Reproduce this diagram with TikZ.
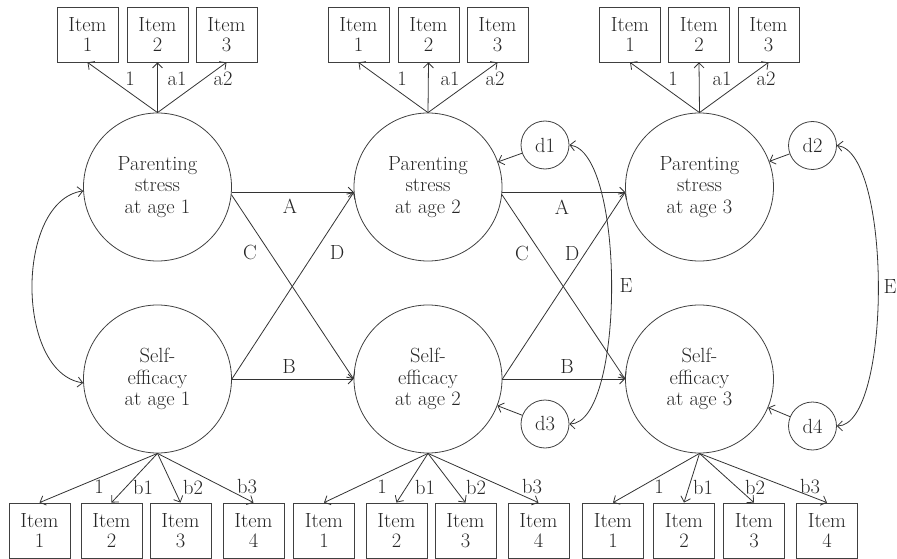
\documentclass[tikz,border=0pt]{standalone}
\usetikzlibrary{arrows.meta}
\begin{document}
\begin{tikzpicture}[x=1pt,y=-1pt,
  every node/.style={font=\fontsize{20.5}{21.5}\selectfont, text=black!85},
  lat/.style={circle,draw=black!75,line width=0.8pt,minimum size=148pt,inner sep=0pt,align=center},
  dist/.style={circle,draw=black!75,line width=0.8pt,minimum size=48pt,inner sep=0pt},
  itembox/.style={rectangle,draw=black!75,line width=0.8pt,minimum width=61pt,minimum height=55pt,inner sep=0pt,align=center,font=\fontsize{20.5}{20}\selectfont},
  arr/.style={draw=black!80,line width=0.8pt,-{Straight Barb[length=5pt,width=10pt]}},
  biarr/.style={draw=black!80,line width=0.8pt,{Straight Barb[length=5pt,width=10pt]}-{Straight Barb[length=5pt,width=10pt]}},
  lbl/.style={inner sep=0pt}
]
\useasboundingbox (0,0) rectangle (897,559);

% latent variables
\node[lat] (ps1) at (157.5,187) {Parenting\\stress\\at age 1};
\node[lat] (ps2) at (428,187) {Parenting\\stress\\at age 2};
\node[lat] (ps3) at (699.5,187) {Parenting\\stress\\at age 3};
\node[lat] (se1) at (157.5,379) {Self-\\efficacy\\at age 1};
\node[lat] (se2) at (428,379) {Self-\\efficacy\\at age 2};
\node[lat] (se3) at (699.5,379) {Self-\\efficacy\\at age 3};

% disturbances
\node[dist] (d1) at (545,145) {d1};
\node[dist] (d2) at (812.5,145.5) {d2};
\node[dist] (d3) at (545,424) {d3};
\node[dist] (d4) at (812.5,426) {d4};

% top items
\node[itembox] (t11) at (87.5,34.5) {Item\\1};
\node[itembox] (t12) at (157.5,34.5) {Item\\2};
\node[itembox] (t13) at (226.5,34.5) {Item\\3};
\node[itembox] (t21) at (358.5,34.5) {Item\\1};
\node[itembox] (t22) at (428.5,34.5) {Item\\2};
\node[itembox] (t23) at (497.5,34.5) {Item\\3};
\node[itembox] (t31) at (630,34.5) {Item\\1};
\node[itembox] (t32) at (699,34.5) {Item\\2};
\node[itembox] (t33) at (768.5,34.5) {Item\\3};

% bottom items
\node[itembox] (b11) at (39.5,530.5) {Item\\1};
\node[itembox] (b12) at (111.5,530.5) {Item\\2};
\node[itembox] (b13) at (180.5,530.5) {Item\\3};
\node[itembox] (b14) at (253.5,530.5) {Item\\4};
\node[itembox] (b21) at (324,530.5) {Item\\1};
\node[itembox] (b22) at (396.5,530.5) {Item\\2};
\node[itembox] (b23) at (465.5,530.5) {Item\\3};
\node[itembox] (b24) at (538.5,530.5) {Item\\4};
\node[itembox] (b31) at (613,530.5) {Item\\1};
\node[itembox] (b32) at (684,530.5) {Item\\2};
\node[itembox] (b33) at (754,530.5) {Item\\3};
\node[itembox] (b34) at (827,530.5) {Item\\4};

% loadings top
\foreach \c in {1,2,3}{
  \draw[arr] (ps\c.north) -- (t\c1.south);
  \draw[arr] (ps\c.north) -- (t\c2.south);
  \draw[arr] (ps\c.north) -- (t\c3.south);
}
% loadings bottom
\foreach \c in {1,2,3}{
  \draw[arr] (se\c.south) -- (b\c1.north);
  \draw[arr] (se\c.south) -- (b\c2.north);
  \draw[arr] (se\c.south) -- (b\c3.north);
  \draw[arr] (se\c.south) -- (b\c4.north);
}

% loading labels top
\node[lbl] (lt11) at (130,79) {1};
\node[lbl] (lt12) at (177,79) {a1};
\node[lbl] (lt13) at (223,79) {a2};
\node[lbl] (lt21) at (402,79) {1};
\node[lbl] (lt22) at (450,79) {a1};
\node[lbl] (lt23) at (495,79) {a2};
\node[lbl] (lt31) at (673,79) {1};
\node[lbl] (lt32) at (722,79) {a1};
\node[lbl] (lt33) at (766,79) {a2};

% loading labels bottom
\node[lbl] (lb11) at (99,487) {1};
\node[lbl] (lb12) at (143,487) {b1};
\node[lbl] (lb13) at (193,487) {b2};
\node[lbl] (lb14) at (247,487) {b3};
\node[lbl] (lb21) at (382,487) {1};
\node[lbl] (lb22) at (425,487) {b1};
\node[lbl] (lb23) at (476,487) {b2};
\node[lbl] (lb24) at (532,487) {b3};
\node[lbl] (lb31) at (659,487) {1};
\node[lbl] (lb32) at (703,487) {b1};
\node[lbl] (lb33) at (755,487) {b2};
\node[lbl] (lb34) at (810,487) {b3};

% structural paths
\draw[arr] (ps1.-4) -- (ps2.184);
\draw[arr] (ps2.-4) -- (ps3.184);
\draw[arr] (se1.east) -- (se2.west);
\draw[arr] (se2.east) -- (se3.west);
\draw[arr] (ps1.-6) -- (se2.west);
\draw[arr] (ps2.-6) -- (se3.west);
\draw[arr] (se1.east) -- (ps2.184);
\draw[arr] (se2.east) -- (ps3.184);

\node[lbl] (la1) at (290,206) {A};
\node[lbl] (la2) at (562,207) {A};
\node[lbl] (lbb1) at (289,366) {B};
\node[lbl] (lbb2) at (567,366) {B};
\node[lbl] (lc1) at (250,252) {C};
\node[lbl] (lc2) at (522,253) {C};
\node[lbl] (ld1) at (337,252) {D};
\node[lbl] (ld2) at (572,253) {D};

% disturbances to latents
\draw[arr] (d1) -- (ps2);
\draw[arr] (d2) -- (ps3);
\draw[arr] (d3) -- (se2);
\draw[arr] (d4) -- (se3);

% covariances
\draw[biarr] (ps1.183) .. controls +(-68,10) and +(-68,-10) .. (se1.183);
\draw[biarr] (d1.east) .. controls +(56,7) and +(56,-1) .. (d3.east);
\draw[biarr] (d2.east) .. controls +(55,7) and +(55,-1) .. (d4.east);
\node[lbl] (le1) at (626,286) {E};
\node[lbl] (le2) at (890,287) {E};
\end{tikzpicture}
\end{document}
